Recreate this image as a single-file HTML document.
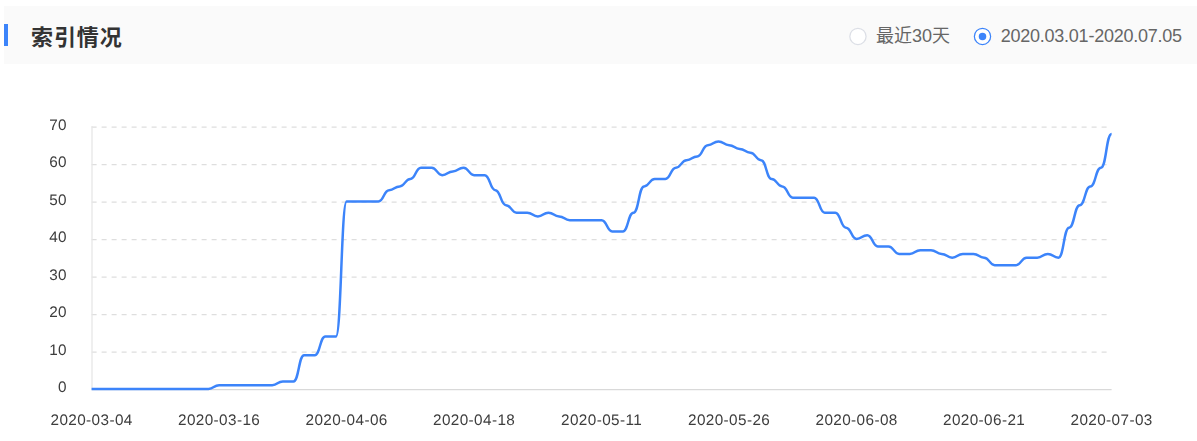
<!DOCTYPE html>
<html><head><meta charset="utf-8"><title>索引情况</title>
<style>
html,body{margin:0;padding:0;background:#fff;}
body{width:1197px;height:441px;position:relative;overflow:hidden;font-family:"Liberation Sans","Noto Sans CJK SC",sans-serif;}
.hd{position:absolute;left:4px;top:6px;width:1193px;height:58px;background:#fafafa;}
.bar{position:absolute;left:4px;top:24px;width:4px;height:22px;background:#3c84fa;}
.title{position:absolute;left:31px;top:19.9px;font-size:22px;line-height:30px;font-weight:bold;color:#333;font-family:"Noto Sans CJK SC",sans-serif;white-space:nowrap;letter-spacing:0.9px;}
.lbl{position:absolute;top:23px;font-size:18px;line-height:26px;color:#666;white-space:nowrap;font-family:"Liberation Sans","Noto Sans CJK SC",sans-serif;}
svg{position:absolute;left:0;top:0;}
.chart{will-change:transform;}
svg text{text-rendering:geometricPrecision;font-family:"Liberation Sans","Noto Sans CJK SC",sans-serif;font-size:15.3px;fill:#3d3d3d;letter-spacing:0.4px;}
</style></head><body>
<div class="hd"></div>
<div class="bar"></div>
<div class="title">索引情况</div>
<svg width="1197" height="441" style="position:absolute;left:0;top:0"><circle cx="857.95" cy="36.4" r="8.125" fill="#fff" stroke="#dcdfe6" stroke-width="1.25"/><circle cx="982.5" cy="36.4" r="8.125" fill="#fff" stroke="#3c84fa" stroke-width="1.25"/><circle cx="982.5" cy="36.4" r="3.75" fill="#3c84fa"/></svg>
<div class="lbl" style="left:876px">最近30天</div>
<div class="lbl" style="left:1000.8px;letter-spacing:-0.25px">2020.03.01-2020.07.05</div>
<svg class="chart" width="1197" height="441" viewBox="0 0 1197 441">
<g stroke="#dedede" stroke-width="1.25" stroke-dasharray="5 5" fill="none">
<path d="M91.600 352.000H1111.600"/><path d="M91.600 314.500H1111.600"/><path d="M91.600 277.000H1111.600"/><path d="M91.600 239.500H1111.600"/><path d="M91.600 202.000H1111.600"/><path d="M91.600 164.500H1111.600"/><path d="M91.600 127.000H1111.600"/>
</g>
<path d="M92.0 126.25V389.5" stroke="#e6e6e6" stroke-width="1.25" fill="none"/>
<path d="M91.6 389.5H1111.6" stroke="#d9d9d9" stroke-width="1.25" fill="none"/>
<g text-anchor="end">
<text x="67.0" y="392.3">0</text><text x="67.0" y="354.8">10</text><text x="67.0" y="317.3">20</text><text x="67.0" y="279.8">30</text><text x="67.0" y="242.3">40</text><text x="67.0" y="204.8">50</text><text x="67.0" y="167.3">60</text><text x="67.0" y="129.8">70</text>
</g>
<g text-anchor="middle">
<text x="91.60" y="425.0">2020-03-04</text><text x="219.10" y="425.0">2020-03-16</text><text x="346.60" y="425.0">2020-04-06</text><text x="474.10" y="425.0">2020-04-18</text><text x="601.60" y="425.0">2020-05-11</text><text x="729.10" y="425.0">2020-05-26</text><text x="856.60" y="425.0">2020-06-08</text><text x="984.10" y="425.0">2020-06-21</text><text x="1111.60" y="425.0">2020-07-03</text>
</g>
<path d="M91.600 388.900 C96.912 388.900 96.912 388.900 102.225 388.900 C107.537 388.900 107.537 388.900 112.850 388.900 C118.162 388.900 118.162 388.900 123.475 388.900 C128.787 388.900 128.787 388.900 134.100 388.900 C139.412 388.900 139.412 388.900 144.725 388.900 C150.037 388.900 150.037 388.900 155.350 388.900 C160.662 388.900 160.662 388.900 165.975 388.900 C171.287 388.900 171.287 388.900 176.600 388.900 C181.912 388.900 181.912 388.900 187.225 388.900 C192.537 388.900 192.537 388.900 197.850 388.900 C203.162 388.900 203.162 388.900 208.475 388.900 C213.787 388.900 213.787 385.150 219.100 385.150 C224.412 385.150 224.412 385.150 229.725 385.150 C235.037 385.150 235.037 385.150 240.350 385.150 C245.662 385.150 245.662 385.150 250.975 385.150 C256.287 385.150 256.287 385.150 261.600 385.150 C266.912 385.150 266.912 385.150 272.225 385.150 C277.537 385.150 277.537 381.400 282.850 381.400 C288.162 381.400 288.162 381.400 293.475 381.400 C298.787 381.400 298.787 355.150 304.100 355.150 C309.412 355.150 309.412 355.150 314.725 355.150 C320.037 355.150 320.037 336.400 325.350 336.400 C330.662 336.400 330.662 336.400 335.975 336.400 C341.287 336.400 341.287 201.400 346.600 201.400 C351.912 201.400 351.912 201.400 357.225 201.400 C362.537 201.400 362.537 201.400 367.850 201.400 C373.162 201.400 373.162 201.400 378.475 201.400 C383.787 201.400 383.787 190.150 389.100 190.150 C394.412 190.150 394.412 186.400 399.725 186.400 C405.037 186.400 405.037 178.900 410.350 178.900 C415.662 178.900 415.662 167.650 420.975 167.650 C426.287 167.650 426.287 167.650 431.600 167.650 C436.912 167.650 436.912 175.150 442.225 175.150 C447.537 175.150 447.537 171.400 452.850 171.400 C458.162 171.400 458.162 167.650 463.475 167.650 C468.787 167.650 468.787 175.150 474.100 175.150 C479.412 175.150 479.412 175.150 484.725 175.150 C490.037 175.150 490.037 190.150 495.350 190.150 C500.662 190.150 500.662 205.150 505.975 205.150 C511.287 205.150 511.287 212.650 516.600 212.650 C521.912 212.650 521.912 212.650 527.225 212.650 C532.537 212.650 532.537 216.400 537.850 216.400 C543.162 216.400 543.162 212.650 548.475 212.650 C553.787 212.650 553.787 216.400 559.100 216.400 C564.412 216.400 564.412 220.150 569.725 220.150 C575.037 220.150 575.037 220.150 580.350 220.150 C585.662 220.150 585.662 220.150 590.975 220.150 C596.287 220.150 596.287 220.150 601.600 220.150 C606.912 220.150 606.912 231.400 612.225 231.400 C617.537 231.400 617.537 231.400 622.850 231.400 C628.162 231.400 628.162 212.650 633.475 212.650 C638.787 212.650 638.787 186.400 644.100 186.400 C649.412 186.400 649.412 178.900 654.725 178.900 C660.037 178.900 660.037 178.900 665.350 178.900 C670.662 178.900 670.662 167.650 675.975 167.650 C681.287 167.650 681.287 160.150 686.600 160.150 C691.912 160.150 691.912 156.400 697.225 156.400 C702.537 156.400 702.537 145.150 707.850 145.150 C713.162 145.150 713.162 141.400 718.475 141.400 C723.787 141.400 723.787 145.150 729.100 145.150 C734.412 145.150 734.412 148.900 739.725 148.900 C745.037 148.900 745.037 152.650 750.350 152.650 C755.662 152.650 755.662 160.150 760.975 160.150 C766.287 160.150 766.287 178.900 771.600 178.900 C776.912 178.900 776.912 186.400 782.225 186.400 C787.537 186.400 787.537 197.650 792.850 197.650 C798.162 197.650 798.162 197.650 803.475 197.650 C808.787 197.650 808.787 197.650 814.100 197.650 C819.412 197.650 819.412 212.650 824.725 212.650 C830.037 212.650 830.037 212.650 835.350 212.650 C840.662 212.650 840.662 227.650 845.975 227.650 C851.287 227.650 851.287 238.900 856.600 238.900 C861.912 238.900 861.912 235.150 867.225 235.150 C872.537 235.150 872.537 246.400 877.850 246.400 C883.162 246.400 883.162 246.400 888.475 246.400 C893.787 246.400 893.787 253.900 899.100 253.900 C904.412 253.900 904.412 253.900 909.725 253.900 C915.037 253.900 915.037 250.150 920.350 250.150 C925.662 250.150 925.662 250.150 930.975 250.150 C936.287 250.150 936.287 253.900 941.600 253.900 C946.912 253.900 946.912 257.650 952.225 257.650 C957.537 257.650 957.537 253.900 962.850 253.900 C968.162 253.900 968.162 253.900 973.475 253.900 C978.787 253.900 978.787 257.650 984.100 257.650 C989.412 257.650 989.412 265.150 994.725 265.150 C1000.037 265.150 1000.037 265.150 1005.350 265.150 C1010.662 265.150 1010.662 265.150 1015.975 265.150 C1021.287 265.150 1021.287 257.650 1026.600 257.650 C1031.912 257.650 1031.912 257.650 1037.225 257.650 C1042.537 257.650 1042.537 253.900 1047.850 253.900 C1053.162 253.900 1053.162 257.650 1058.475 257.650 C1063.787 257.650 1063.787 227.650 1069.100 227.650 C1074.412 227.650 1074.412 205.150 1079.725 205.150 C1085.037 205.150 1085.037 186.400 1090.350 186.400 C1095.662 186.400 1095.662 167.650 1100.975 167.650 C1106.287 167.650 1106.287 133.900 1111.600 133.900" stroke="#3c84fa" stroke-width="2.5" fill="none" stroke-linejoin="bevel"/>
</svg>
</body></html>
